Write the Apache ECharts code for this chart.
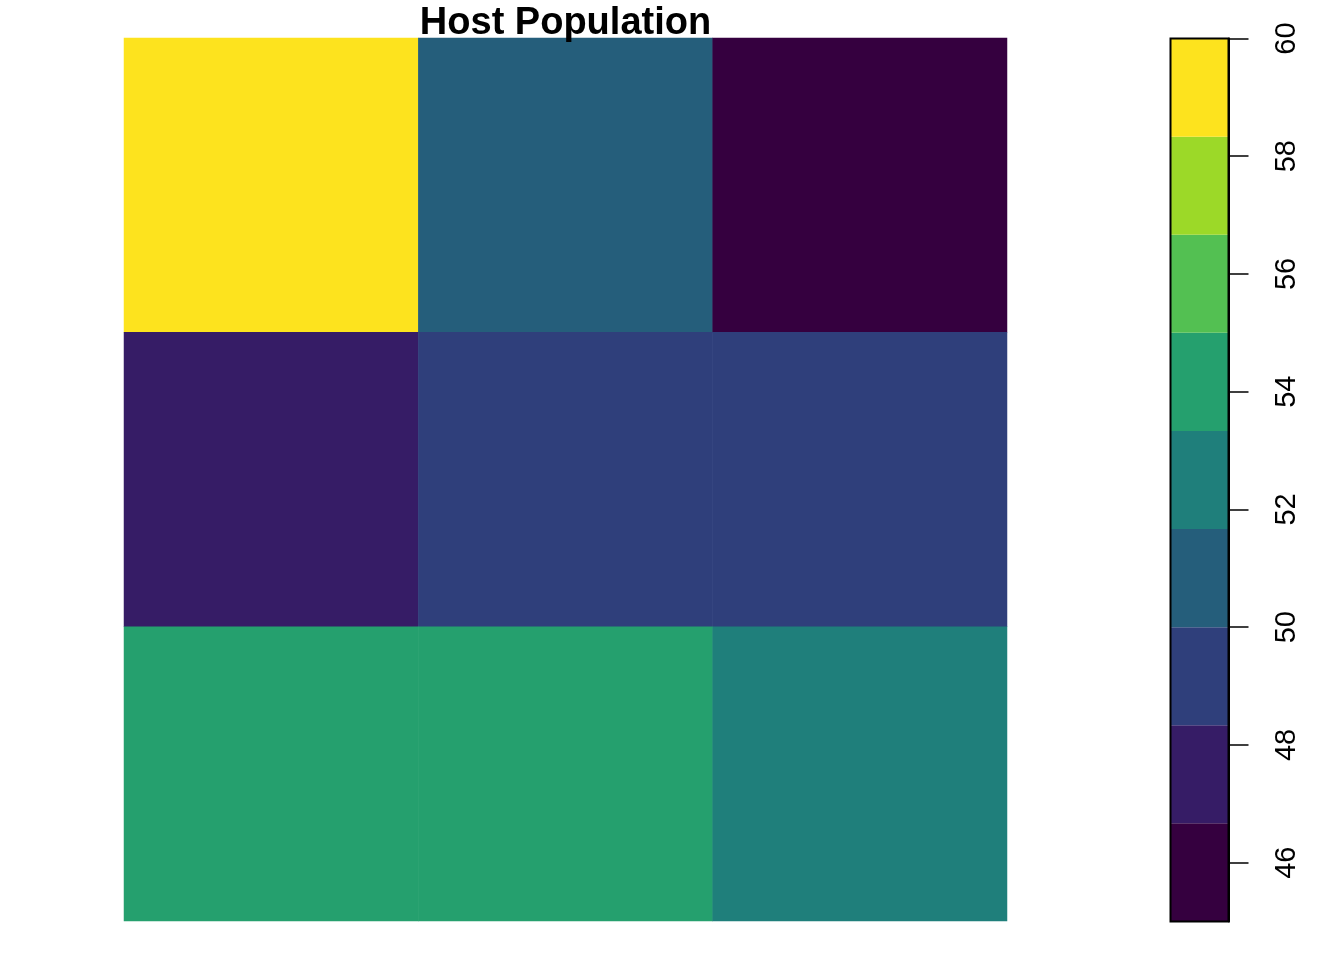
<!DOCTYPE html>
<html>
<head>
<meta charset="utf-8">
<script src="https://cdn.jsdelivr.net/npm/echarts@6/dist/echarts.min.js"></script>
<style>html,body{margin:0;padding:0;background:#fff}#c{width:1344px;height:960px}</style>
</head>
<body>
<div id="c"></div>
<script>
// ---- data ----
const chartTitle = 'Host Population';
const colLabels = ['1', '2', '3'];
const rowLabels = ['1', '2', '3']; // top to bottom
const hostPopulation = [
  [60.0, 51.0, 45.0],
  [47.5, 49.0, 49.0],
  [54.0, 54.0, 52.5]
];
const breaks = [45, 46.667, 48.333, 50, 51.667, 53.333, 55, 56.667, 58.333, 60];
const binColors = ['#35003F', '#361C66', '#2F3F7B', '#255E7B', '#1F7F7B', '#25A06E', '#53C052', '#9CD928', '#FDE31E'];
const legendTicks = [46, 48, 50, 52, 54, 56, 58, 60];

// ---- build ----
const heatData = [];
hostPopulation.forEach((row, r) => row.forEach((v, c) => heatData.push([c, r, v])));
const pieces = binColors.map((col, i) => {
  const p = { gte: breaks[i], color: col };
  if (i === binColors.length - 1) p.lte = breaks[i + 1]; else p.lt = breaks[i + 1];
  return p;
});
const legendData = binColors.map((col, i) => [breaks[i], breaks[i + 1], i]);
legendData.push([breaks[0], breaks[breaks.length - 1], -1]); // frame

const FONT = 'Liberation Sans, Arial, Helvetica, sans-serif';
const chart = echarts.init(document.getElementById('c'), null, { renderer: 'canvas' });
chart.setOption({
  animation: false,
  backgroundColor: '#fff',
  title: {
    text: chartTitle, left: 560.5, top: 0, textAlign: 'center',
    textStyle: { fontFamily: FONT, fontWeight: 'bold', fontSize: 38, lineHeight: 38, color: '#000' }
  },
  grid: [
    { left: 124, top: 38, width: 883, height: 883 },
    { left: 1170.5, top: 38.5, width: 58, height: 883 }
  ],
  xAxis: [
    { gridIndex: 0, type: 'category', data: colLabels, show: false },
    { gridIndex: 1, type: 'value', min: 0, max: 1, show: false }
  ],
  yAxis: [
    { gridIndex: 0, type: 'category', data: rowLabels, inverse: true, show: false },
    {
      gridIndex: 1, type: 'value', min: 45, max: 60, position: 'right',
      splitLine: { show: false },
      axisLine: { show: true, onZero: false, lineStyle: { color: '#000', width: 2 } },
      axisTick: { show: true, inside: false, length: 20, customValues: legendTicks, lineStyle: { color: '#000', width: 1.5 } },
      axisLabel: {
        show: true, customValues: legendTicks, rotate: 90, margin: 44,
        fontFamily: FONT, fontSize: 29, color: '#000'
      }
    }
  ],
  visualMap: {
    type: 'piecewise', show: false, seriesIndex: 0, dimension: 2, pieces: pieces
  },
  series: [
    {
      type: 'heatmap', xAxisIndex: 0, yAxisIndex: 0, data: heatData,
      itemStyle: { borderWidth: 0 }, emphasis: { disabled: true }
    },
    {
      type: 'custom', xAxisIndex: 1, yAxisIndex: 1, data: legendData, clip: false, z: 1,
      encode: { x: [], y: [0, 1] },
      renderItem: function (params, api) {
        const lo = api.value(0), hi = api.value(1), ci = api.value(2);
        const pTop = api.coord([0, hi]);
        const pBot = api.coord([0, lo]);
        const cs = params.coordSys;
        if (ci < 0) {
          return {
            type: 'rect', z2: 10,
            shape: { x: cs.x, y: pTop[1], width: cs.width, height: pBot[1] - pTop[1] },
            style: { fill: 'none', stroke: '#000', lineWidth: 2 }
          };
        }
        return {
          type: 'rect',
          shape: { x: cs.x, y: pTop[1], width: cs.width, height: pBot[1] - pTop[1] },
          style: { fill: binColors[ci], stroke: null }
        };
      }
    }
  ]
});
</script>
</body>
</html>
